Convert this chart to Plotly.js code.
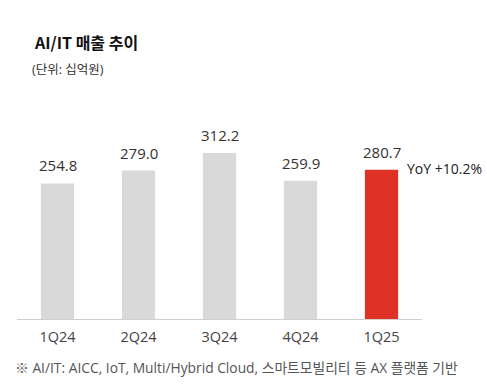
<!DOCTYPE html>
<html><head><meta charset="utf-8">
<script src="https://cdn.plot.ly/plotly-3.0.1.min.js"></script>
<style>html,body{margin:0;padding:0;background:#fff;}#chart{width:487px;height:389px;}</style>
</head><body><div id="chart"></div>
<script>
const categories = ["1Q24", "2Q24", "3Q24", "4Q24", "1Q25"];
const values = [254.8, 279.0, 312.2, 259.9, 280.7];
const valueLabels = ["254.8", "279.0", "312.2", "259.9", "280.7"];
const barColors = ["#d9d9d9", "#d9d9d9", "#d9d9d9", "#d9d9d9", "#e03127"];
const yoyText = "YoY +10.2%";

const font = '"Open Sans", "Noto Sans CJK KR", sans-serif';
const trace = {
  type: "bar", x: categories, y: values,
  marker: {color: barColors},
  hoverinfo: "skip"
};
const labelAnns = categories.map((c, i) => ({
  xref: "x", yref: "y", x: c, y: values[i], yshift: 6, xanchor: "center", yanchor: "bottom",
  text: valueLabels[i], showarrow: false, font: {family: font, size: 15, color: "#333"}
}));
const layout = {
  width: 487, height: 389,
  margin: {l: 17, r: 65, t: 100, b: 70},
  paper_bgcolor: "#fff", plot_bgcolor: "#fff",
  bargap: 0.59,
  showlegend: false,
  xaxis: {type: "category", range: [-0.5, 4.5], showline: true, linecolor: "#cfcfcf", linewidth: 1,
          ticks: "", ticklabelstandoff: 5, tickfont: {family: font, size: 14.5, color: "#444"}, showgrid: false, zeroline: false},
  yaxis: {range: [0, 411.6], visible: false, showgrid: false, zeroline: false},
  font: {family: font},
  annotations: labelAnns.concat([
    {xref: "paper", yref: "paper", x: 0.036, y: 1 + 58/219, xanchor: "left", yanchor: "middle",
     text: "<b>AI/IT 매출 추이</b>", showarrow: false, font: {family: '"Noto Sans CJK KR", sans-serif', size: 16, color: "#111"}},
    {xref: "paper", yref: "paper", x: 0.033, y: 1 + 30/219, xanchor: "left", yanchor: "middle",
     text: "(단위: 십억원)", showarrow: false, font: {family: font, size: 12.5, color: "#333"}},
    {xref: "x", yref: "y", x: categories[4], y: values[4], xshift: 23, yshift: 1, xanchor: "left", yanchor: "middle",
     text: yoyText, showarrow: false, font: {family: font, size: 14, color: "#222"}},
    {xref: "paper", yref: "paper", x: -0.01, y: -48/219, xanchor: "left", yanchor: "middle",
     text: "※ AI/IT: AICC, IoT, Multi/Hybrid Cloud, 스마트모빌리티 등 AX 플랫폼 기반", showarrow: false,
     font: {family: font, size: 13.8, color: "#555"}}
  ])
};
Plotly.newPlot("chart", [trace], layout, {staticPlot: true, displayModeBar: false});
</script></body></html>
